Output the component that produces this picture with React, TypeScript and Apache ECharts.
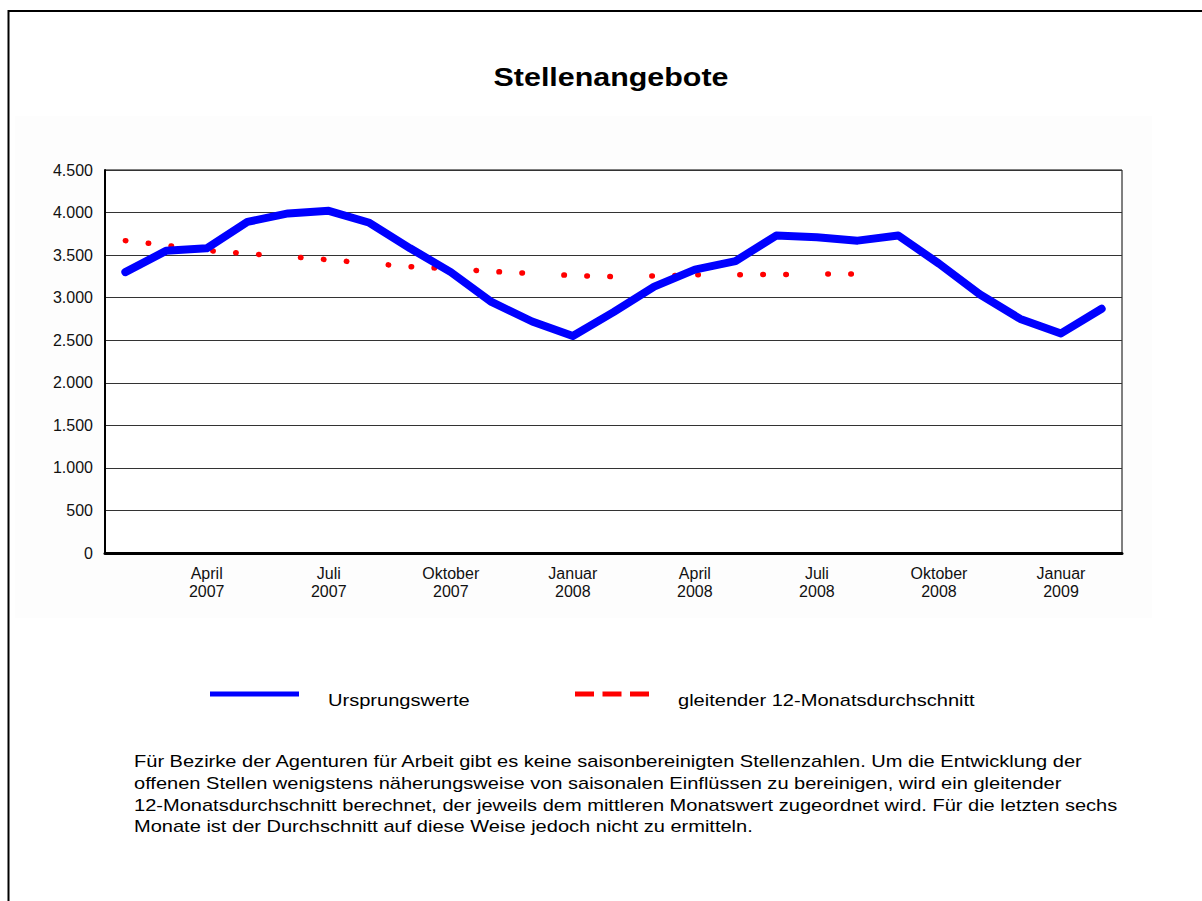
import { useEffect, useRef } from "react";
import * as echarts from "echarts";

const categories = [
  "Februar 2007", "März 2007", "April 2007", "Mai 2007", "Juni 2007", "Juli 2007",
  "August 2007", "September 2007", "Oktober 2007", "November 2007", "Dezember 2007",
  "Januar 2008", "Februar 2008", "März 2008", "April 2008", "Mai 2008", "Juni 2008",
  "Juli 2008", "August 2008", "September 2008", "Oktober 2008", "November 2008",
  "Dezember 2008", "Januar 2009", "Februar 2009",
];

const ursprungswerte = [
  3300, 3550, 3580, 3890, 3990, 4020, 3880, 3580, 3300, 2950, 2720, 2550, 2830,
  3130, 3330, 3430, 3730, 3710, 3670, 3730, 3400, 3040, 2750, 2580, 2870,
];

const gleitenderDurchschnitt = [
  3670, 3615, 3555, 3517, 3483, 3445, 3403, 3365, 3340, 3308, 3285, 3260, 3247,
  3255, 3268, 3270, 3272, 3277, 3278, null, null, null, null, null, null,
];

const yMin = 0;
const yMax = 4500;
const yInterval = 500;

const titleText = "Stellenangebote";
const legendNames = ["Ursprungswerte", "gleitender 12-Monatsdurchschnitt"];
const footnoteLines = [
  "Für Bezirke der Agenturen für Arbeit gibt es keine saisonbereinigten Stellenzahlen. Um die Entwicklung der",
  "offenen Stellen wenigstens näherungsweise von saisonalen Einflüssen zu bereinigen, wird ein gleitender",
  "12-Monatsdurchschnitt berechnet, der jeweils dem mittleren Monatswert zugeordnet wird. Für die letzten sechs",
  "Monate ist der Durchschnitt auf diese Weise jedoch nicht zu ermitteln.",
];

const FONT = "'Liberation Sans', Arial, sans-serif";

function fmtDe(v: number): string {
  return String(v).replace(/\B(?=(\d{3})+(?!\d))/g, ".");
}

export default function App() {
  const ref = useRef<HTMLDivElement>(null);

  useEffect(() => {
    if (!ref.current) return;
    const chart = echarts.init(ref.current, null, { renderer: "svg" });
    const option: any = {
      animation: false,
      backgroundColor: "#ffffff",
      grid: {
        left: 105,
        top: 170,
        width: 1017,
        height: 383,
        show: true,
        borderColor: "#000000",
        borderWidth: 1,
        backgroundColor: "#ffffff",
      },
      xAxis: {
        type: "category",
        data: categories,
        boundaryGap: true,
        axisLine: { show: true, lineStyle: { color: "#000000", width: 3 } },
        axisTick: { show: false },
        splitLine: { show: false },
        axisLabel: {
          interval: (i: number) => i % 3 === 2,
          formatter: (v: string) => v.replace(" ", "\n"),
          fontFamily: FONT,
          fontSize: 16,
          lineHeight: 18,
          color: "#111111",
          margin: 11,
        },
      },
      yAxis: {
        type: "value",
        min: yMin,
        max: yMax,
        interval: yInterval,
        axisLine: { show: true, lineStyle: { color: "#000000", width: 2 } },
        axisTick: { show: false },
        splitLine: { show: true, lineStyle: { color: "#333333", width: 1 } },
        axisLabel: {
          formatter: (v: number) => fmtDe(v),
          fontFamily: FONT,
          fontSize: 16,
          color: "#111111",
          margin: 12,
        },
      },
      series: [
        {
          name: legendNames[0],
          type: "line",
          data: ursprungswerte,
          symbol: "none",
          z: 3,
          lineStyle: { color: "#0000ff", width: 8, cap: "round", join: "round" },
        },
        {
          name: legendNames[1],
          type: "line",
          data: gleitenderDurchschnitt,
          symbol: "none",
          z: 2,
          lineStyle: {
            color: "#ff0000",
            width: 5.5,
            cap: "round",
            type: [0.5, 22.5, 0.5, 22.5, 0.5, 41.5],
          },
        },
      ],
      graphic: [
        {
          type: "rect",
          z: -100,
          silent: true,
          shape: { x: 15, y: 116, width: 1137, height: 502 },
          style: { fill: "#fdfdfd" },
        },
        {
          type: "rect",
          silent: true,
          shape: { x: 8.5, y: 11, width: 1300, height: 1000 },
          style: { fill: "none", stroke: "#000000", lineWidth: 2 },
        },
        {
          type: "text",
          x: 611,
          y: 77,
          scaleX: 1.17,
          style: {
            text: titleText,
            x: 0,
            y: 0,
            align: "center",
            verticalAlign: "middle",
            font: `bold 26px ${FONT}`,
            fill: "#000000",
          },
        },
        {
          type: "line",
          silent: true,
          shape: { x1: 210, y1: 694, x2: 299, y2: 694 },
          style: { stroke: "#0000ff", lineWidth: 5 },
        },
        {
          type: "text",
          x: 328,
          y: 701,
          scaleX: 1.255,
          style: {
            text: legendNames[0],
            x: 0,
            y: 0,
            align: "left",
            verticalAlign: "middle",
            font: `16px ${FONT}`,
            fill: "#000000",
          },
        },
        {
          type: "line",
          silent: true,
          shape: { x1: 575, y1: 694, x2: 650, y2: 694 },
          style: { stroke: "#ff0000", lineWidth: 5, lineDash: [19, 8.5] },
        },
        {
          type: "text",
          x: 678,
          y: 701,
          scaleX: 1.255,
          style: {
            text: legendNames[1],
            x: 0,
            y: 0,
            align: "left",
            verticalAlign: "middle",
            font: `16px ${FONT}`,
            fill: "#000000",
          },
        },
        {
          type: "text",
          x: 134,
          y: 751,
          scaleX: 1.253,
          style: {
            text: footnoteLines.join("\n"),
            x: 0,
            y: 0,
            align: "left",
            verticalAlign: "top",
            lineHeight: 21.7,
            font: `16px ${FONT}`,
            fill: "#000000",
          },
        },
      ],
    };
    chart.setOption(option);
    return () => chart.dispose();
  }, []);

  return (
    <div
      ref={ref}
      style={{ position: "fixed", left: 0, top: 0, width: 1202, height: 901 }}
    />
  );
}
